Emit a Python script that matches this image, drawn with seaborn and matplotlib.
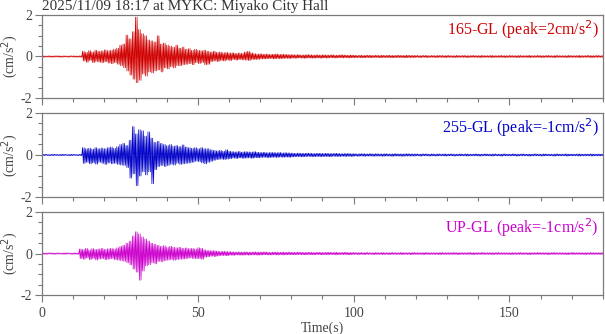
import matplotlib
matplotlib.use("Agg")
import matplotlib.pyplot as plt
from matplotlib.ticker import MultipleLocator
import seaborn as sns
import pandas as pd

# ---- data (envelope extremes per second, in units of 0.01 cm/s^2) ----
TIME_S = list(range(0, 181))

NS_UP = [3,2,3,2,3,3,2,3,2,3,
         3,2,3,25,20,28,22,30,25,27,
         32,28,30,35,40,55,60,103,85,120,
         190,130,110,100,80,75,70,100,60,65,
         55,50,45,55,40,45,35,38,30,35,
         30,28,30,25,22,25,20,22,18,20,
         17,18,15,17,15,22,25,18,14,12,
         13,11,12,10,11,12,10,11,10,9,
         9,8,9,7,8,9,8,7,8,7,
         8,7,7,8,6,7,8,7,6,7,
         6,5,6,5,6,6,5,6,5,6,
         5,6,5,5,6,5,5,6,5,5,
         5,4,5,5,4,5,4,5,5,4,
         5,4,4,5,4,5,4,4,5,4,
         4,5,4,4,5,4,4,5,4,4,
         5,4,4,5,4,4,5,4,4,5,
         4,4,5,4,4,5,4,4,4,5,
         4,4,5,4,4,5,4,4,5,4,4]
NS_LOW = [-3,-2,-3,-3,-2,-3,-3,-2,-3,-2,
          -3,-3,-3,-22,-28,-20,-30,-25,-28,-30,
          -26,-32,-35,-30,-38,-45,-55,-70,-90,-110,
          -127,-115,-85,-95,-75,-80,-70,-65,-75,-55,
          -60,-50,-55,-45,-45,-40,-38,-35,-40,-30,
          -35,-30,-40,-38,-25,-22,-25,-20,-22,-18,
          -20,-15,-18,-15,-17,-18,-20,-15,-15,-14,
          -12,-12,-11,-10,-12,-10,-11,-10,-9,-10,
          -8,-9,-7,-8,-9,-7,-8,-8,-7,-8,
          -7,-8,-6,-7,-7,-6,-7,-6,-7,-6,
          -6,-5,-6,-6,-5,-6,-5,-5,-6,-5,
          -5,-5,-6,-5,-5,-5,-6,-5,-5,-5,
          -4,-5,-4,-5,-4,-4,-5,-4,-4,-5,
          -4,-4,-5,-4,-4,-4,-5,-4,-4,-4,
          -5,-4,-4,-4,-5,-4,-4,-4,-5,-4,
          -4,-4,-5,-4,-4,-4,-5,-4,-4,-4,
          -5,-4,-4,-4,-5,-4,-4,-4,-5,-4,
          -4,-4,-5,-4,-4,-4,-5,-4,-4,-4,-4]

EW_UP = [3,3,2,3,3,2,3,3,2,3,
         3,2,3,35,30,32,28,35,30,33,
         30,35,38,32,40,50,55,45,70,135,
         100,120,115,90,110,80,60,65,55,50,
         45,50,42,45,40,48,38,35,32,35,
         30,35,30,30,25,22,20,22,18,25,
         18,16,15,17,14,16,15,14,16,13,
         12,13,11,12,12,11,12,10,11,10,
         9,8,9,8,8,9,8,7,8,8,
         7,8,7,7,8,7,6,7,7,6,
         6,5,6,6,5,6,5,6,5,5,
         6,5,5,6,5,5,5,6,5,5,
         5,4,5,5,4,5,4,5,4,5,
         4,5,4,4,5,4,5,4,4,5,
         4,4,5,4,4,5,4,4,5,4,
         4,5,4,4,5,4,4,4,5,4,
         4,5,4,4,4,5,4,4,5,4,
         4,4,5,4,4,4,5,4,4,4,4]
EW_LOW = [-3,-2,-3,-3,-2,-3,-3,-2,-3,-3,
          -2,-3,-3,-40,-35,-42,-38,-44,-35,-40,
          -45,-38,-42,-40,-45,-48,-50,-60,-110,-90,
          -146,-100,-80,-95,-80,-137,-70,-55,-50,-55,
          -50,-45,-48,-40,-45,-42,-40,-38,-35,-30,
          -32,-38,-42,-35,-30,-25,-22,-20,-22,-20,
          -18,-15,-17,-14,-16,-15,-14,-16,-13,-14,
          -12,-11,-13,-12,-11,-12,-10,-11,-10,-11,
          -9,-8,-8,-9,-8,-7,-8,-8,-7,-8,
          -7,-7,-8,-6,-7,-7,-6,-7,-6,-7,
          -5,-6,-5,-6,-5,-5,-6,-5,-5,-6,
          -5,-5,-6,-5,-5,-6,-5,-5,-5,-5,
          -4,-5,-4,-4,-5,-4,-5,-4,-4,-5,
          -4,-4,-5,-4,-4,-4,-5,-4,-4,-4,
          -5,-4,-4,-4,-5,-4,-4,-5,-4,-4,
          -4,-4,-5,-4,-4,-4,-5,-4,-4,-4,
          -5,-4,-4,-4,-5,-4,-4,-4,-5,-4,
          -4,-4,-5,-4,-4,-4,-5,-4,-4,-4,-4]

UD_UP = [3,2,3,3,2,3,2,3,3,2,
         3,2,22,20,25,18,24,20,22,25,
         20,23,25,22,28,35,40,50,60,85,
         105,95,80,70,60,50,45,40,35,38,
         30,35,30,28,30,25,27,24,25,22,
         28,25,18,15,14,14,12,10,11,10,
         9,8,7,8,7,8,7,7,8,7,
         7,8,7,6,7,7,6,7,6,7,
         6,6,7,6,5,6,6,5,6,6,
         5,6,6,5,6,5,5,6,5,5,
         5,4,5,4,5,4,4,5,4,5,
         4,4,5,4,4,5,4,4,4,5,
         4,4,4,5,4,4,4,4,5,4,
         4,4,5,4,4,4,4,5,4,4,
         4,5,4,4,4,4,5,4,4,4,
         4,4,4,5,4,4,4,4,4,5,
         4,4,4,4,5,4,4,4,4,4,
         5,4,4,4,4,4,5,4,4,4,4]
UD_LOW = [-3,-3,-2,-3,-3,-2,-3,-3,-2,-3,
          -3,-3,-25,-28,-22,-30,-25,-32,-27,-25,
          -30,-28,-25,-30,-32,-35,-38,-45,-55,-75,
          -90,-129,-85,-60,-55,-45,-50,-38,-40,-35,
          -32,-30,-33,-30,-28,-27,-25,-22,-24,-25,
          -25,-28,-18,-16,-13,-15,-12,-10,-10,-11,
          -8,-9,-7,-8,-8,-7,-8,-7,-7,-8,
          -7,-6,-7,-7,-6,-7,-6,-7,-6,-6,
          -6,-6,-5,-6,-6,-5,-6,-6,-5,-6,
          -5,-6,-5,-5,-6,-5,-5,-5,-6,-5,
          -4,-5,-4,-5,-4,-4,-5,-4,-4,-5,
          -4,-5,-4,-4,-4,-5,-4,-4,-5,-4,
          -4,-4,-5,-4,-4,-4,-4,-5,-4,-4,
          -4,-4,-4,-5,-4,-4,-4,-4,-5,-4,
          -4,-4,-4,-4,-5,-4,-4,-4,-4,-4,
          -5,-4,-4,-4,-4,-4,-5,-4,-4,-4,
          -4,-4,-5,-4,-4,-4,-4,-4,-5,-4,
          -4,-4,-4,-4,-5,-4,-4,-4,-4,-4,-4]

COMPONENTS = ["165-GL", "255-GL", "UP-GL"]
PEAKS = ["2", "-1", "-1"]
COLORS = ["#d00000", "#0000c8", "#cc00cc"]
TITLE = "2025/11/09 18:17 at MYKC: Miyako City Hall"


def trace(up, low):
    # min/max rendering: each second's extremes drawn as a dense swing
    ts, vs = [], []
    for t, u, l in zip(TIME_S, up, low):
        for k, v in ((0.0, u), (0.25, l), (0.5, u), (0.75, l)):
            ts.append(t + k); vs.append(v / 100.0)
    return pd.DataFrame({"t": ts, "acc": vs})


sns.set_style("ticks")
plt.rcParams["font.family"] = ["Liberation Serif", "DejaVu Serif"]
plt.rcParams["axes.unicode_minus"] = False

GRAY = "#7a7a7a"
TXT = "#444444"

fig = plt.figure(figsize=(6.05, 3.34), dpi=100)
boxes = [(0.955, 0.707), (0.662, 0.410), (0.365, 0.117)]
left, right = 0.0695, 0.9965
data = [(NS_UP, NS_LOW), (EW_UP, EW_LOW), (UD_UP, UD_LOW)]

for i, ((top, bot), (up, low)) in enumerate(zip(boxes, data)):
    ax = fig.add_axes([left, bot, right - left, top - bot])
    df = trace(up, low)
    ax.fill_between(df["t"], df["acc"], 0, color=COLORS[i], lw=0, alpha=0.85)
    sns.lineplot(data=df, x="t", y="acc", ax=ax, color=COLORS[i], lw=0.5,
                 estimator=None, sort=False)
    ax.set_xlim(0, 180)
    ax.set_ylim(-2, 2)
    ax.xaxis.set_major_locator(MultipleLocator(50))
    ax.xaxis.set_minor_locator(MultipleLocator(10))
    ax.yaxis.set_major_locator(MultipleLocator(2))
    ax.yaxis.set_minor_locator(MultipleLocator(0.5))
    ax.tick_params(axis="both", which="major", length=5, width=0.8,
                   color=GRAY, labelcolor=TXT, labelsize=10, direction="out")
    ax.tick_params(axis="both", which="minor", length=3, width=0.8,
                   color=GRAY, direction="out")
    ax.tick_params(axis="y", pad=2)
    for s in ax.spines.values():
        s.set_color(GRAY)
        s.set_linewidth(0.9)
        s.set_visible(True)
    ax.set_ylabel("(cm/s$^2$)", color=TXT, fontsize=10)
    ax.yaxis.set_label_coords(-0.040, 0.5)
    ax.set_xlabel("")
    if i < 2:
        ax.set_xticklabels([])
    else:
        ax.set_xlabel("Time(s)", color=TXT, fontsize=10, labelpad=1)
    ax.text(0.993, 0.955, f"{COMPONENTS[i]} (peak={PEAKS[i]}cm/s$^2$)",
            transform=ax.transAxes, ha="right", va="top",
            color=COLORS[i], fontsize=11.5)
    if i == 0:
        ax.text(0.0, 1.02, TITLE, transform=ax.transAxes, ha="left",
                va="bottom", color="#333333", fontsize=10.9)

fig.savefig("out.png", dpi=100)
